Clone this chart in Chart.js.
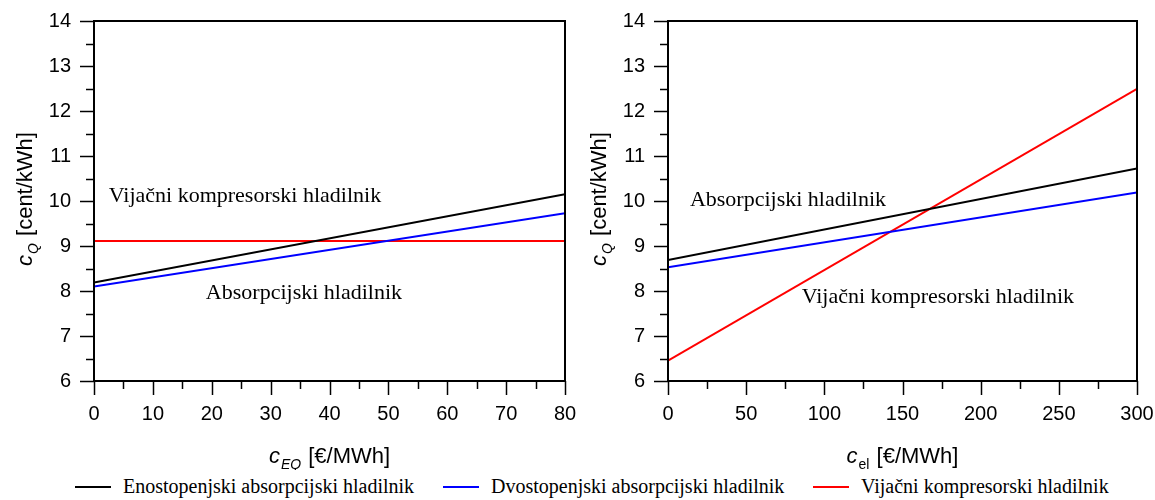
<!DOCTYPE html>
<html>
<head>
<meta charset="utf-8">
<script src="https://cdn.jsdelivr.net/npm/chart.js@4.4.1/dist/chart.umd.min.js"></script>
<style>
    body { margin: 0; background: #fff; width: 1155px; height: 500px; overflow: hidden; position: relative; }
    .box { position: absolute; top: 0; height: 470px; }
    #leftBox { left: 0; width: 580px; }
    #rightBox { left: 580px; width: 575px; }
    #legend { position: absolute; top: 475px; left: 0; width: 1155px; height: 25px;
        font-family: "Liberation Serif", "Times New Roman", serif; font-size: 20px; color: #000; }
    .item { position: absolute; top: 0; white-space: nowrap; }
    .swatch { display: inline-block; width: 36px; height: 2px; vertical-align: middle; margin-right: 12px; position: relative; top: -1px; }
</style>
</head>
<body>
<div class="box" id="leftBox"><canvas id="leftChart"></canvas></div>
<div class="box" id="rightBox"><canvas id="rightChart"></canvas></div>
<div id="legend"></div>

<script>
// series names
const seriesNames = ['Enostopenjski absorpcijski hladilnik', 'Dvostopenjski absorpcijski hladilnik', 'Vijačni kompresorski hladilnik'];
const seriesColors = ['#000000', '#0000ff', '#ff0000'];

// left chart: c_EQ [€/MWh]
const leftX = [0, 80];
const leftSingle = [8.19, 10.15];
const leftDouble = [8.10, 9.73];
const leftScrew = [9.11, 9.11];

// right chart: c_el [€/MWh]
const rightX = [0, 300];
const rightSingle = [8.69, 10.72];
const rightDouble = [8.53, 10.19];
const rightScrew = [6.45, 12.49];

// y axis range (both charts)
const yMin = 6, yMax = 14;

function toPoints(xs, ys) {
    return xs.map((x, i) => ({ x: x, y: ys[i] }));
}

// draws the frame, outward ticks, axis titles and text labels
const decorPlugin = {
    id: 'decor',
    afterDraw(chart, args, opts) {
        const ctx = chart.ctx;
        const area = chart.chartArea;
        const xs = chart.scales.x, ys = chart.scales.y;
        ctx.save();
        ctx.strokeStyle = '#000';
        ctx.lineWidth = 2;
        ctx.strokeRect(area.left, area.top, area.right - area.left, area.bottom - area.top);

        // y ticks
        ctx.lineWidth = 1.5;
        for (let v = yMin; v <= yMax + 0.001; v += 0.5) {
            const py = Math.round(ys.getPixelForValue(v)) + 0.5;
            const len = Number.isInteger(v) ? 14 : 8;
            ctx.beginPath();
            ctx.moveTo(area.left - len, py);
            ctx.lineTo(area.left, py);
            ctx.stroke();
        }
        // x ticks
        for (let v = xs.min; v <= xs.max + 0.001; v += opts.minorStep) {
            const px = Math.round(xs.getPixelForValue(v)) + 0.5;
            const len = (Math.round(v / opts.minorStep) % 2 === 0) ? 14 : 8;
            ctx.beginPath();
            ctx.moveTo(px, area.bottom);
            ctx.lineTo(px, area.bottom + len);
            ctx.stroke();
        }

        // y title: c_Q [cent/kWh]
        ctx.fillStyle = '#000';
        ctx.textBaseline = 'alphabetic';
        ctx.translate(opts.yTitleX, (area.top + area.bottom) / 2 - 2);
        ctx.rotate(-Math.PI / 2);
        drawSubTitle(ctx, 'Q', true, ' [cent/kWh]');
        ctx.setTransform(1, 0, 0, 1, 0, 0);

        // x title
        ctx.translate((area.left + area.right) / 2, opts.xTitleY);
        drawSubTitle(ctx, opts.xSub, opts.xSubItalic, ' [€/MWh]');
        ctx.setTransform(1, 0, 0, 1, 0, 0);

        // labels inside the plot
        ctx.font = '22px "Liberation Serif", "Times New Roman", serif';
        ctx.textAlign = 'left';
        ctx.textBaseline = 'middle';
        opts.notes.forEach(n => {
            ctx.fillText(n.text, xs.getPixelForValue(n.x), ys.getPixelForValue(n.y));
        });
        ctx.restore();
    }
};

// centred text "c" + subscript + rest, baseline near y = 0
function drawSubTitle(ctx, sub, subItalic, rest) {
    const main = '22px "Liberation Sans", Arial, sans-serif';
    const mainIt = 'italic 22px "Liberation Sans", Arial, sans-serif';
    const small = (subItalic ? 'italic ' : '') + '14px "Liberation Sans", Arial, sans-serif';
    ctx.font = mainIt; const w1 = ctx.measureText('c').width + 1;
    ctx.font = small; const w2 = ctx.measureText(sub).width + 1;
    ctx.font = main; const w3 = ctx.measureText(rest).width;
    let x = -(w1 + w2 + w3) / 2;
    ctx.textAlign = 'left';
    ctx.font = mainIt; ctx.fillText('c', x, 8); x += w1;
    ctx.font = small; ctx.fillText(sub, x, 14); x += w2;
    ctx.font = main; ctx.fillText(rest, x, 8);
}

function makeChart(id, xs, ysList, cfg) {
    const datasets = ysList.map((ys, i) => ({
        label: seriesNames[i],
        data: toPoints(xs, ys),
        borderColor: seriesColors[i],
        borderWidth: 2,
        pointRadius: 0,
        fill: false,
        tension: 0
    }));
    const tickFont = { family: '"Liberation Sans", Arial, sans-serif', size: 20 };
    return new Chart(document.getElementById(id), {
        type: 'line',
        data: { datasets: datasets },
        plugins: [decorPlugin],
        options: {
            responsive: true,
            maintainAspectRatio: false,
            animation: false,
            layout: { padding: { top: 21, right: cfg.padRight, left: 0, bottom: 0 } },
            plugins: {
                legend: { display: false },
                tooltip: { enabled: false },
                decor: cfg.decor
            },
            scales: {
                x: {
                    type: 'linear',
                    min: xs[0],
                    max: xs[xs.length - 1],
                    grid: { display: false, drawTicks: false },
                    border: { display: false },
                    ticks: { stepSize: cfg.xStep, color: '#000', font: tickFont, padding: 21, maxRotation: 0 },
                    afterFit: s => { s.height = 89; s.paddingLeft = 0; s.paddingRight = 0; }
                },
                y: {
                    min: yMin,
                    max: yMax,
                    grid: { display: false, drawTicks: false },
                    border: { display: false },
                    ticks: { stepSize: 1, color: '#000', font: tickFont, padding: 23 },
                    afterFit: s => { s.width = cfg.yWidth; s.paddingTop = 0; s.paddingBottom = 0; }
                }
            }
        }
    });
}

makeChart('leftChart', leftX, [leftSingle, leftDouble, leftScrew], {
    padRight: 15, yWidth: 94, xStep: 10,
    decor: {
        minorStep: 5, yTitleX: 24, xTitleY: 455, xSub: 'EQ', xSubItalic: true,
        notes: [
            { text: 'Vijačni kompresorski hladilnik', x: 2.5, y: 10.1 },
            { text: 'Absorpcijski hladilnik', x: 19, y: 7.95 }
        ]
    }
});

makeChart('rightChart', rightX, [rightSingle, rightDouble, rightScrew], {
    padRight: 18, yWidth: 88, xStep: 50,
    decor: {
        minorStep: 25, yTitleX: 18, xTitleY: 455, xSub: 'el', xSubItalic: false,
        notes: [
            { text: 'Absorpcijski hladilnik', x: 14, y: 10.02 },
            { text: 'Vijačni kompresorski hladilnik', x: 85.5, y: 7.87 }
        ]
    }
});

// shared legend under both charts
const legendX = [75, 443, 813];
const legendEl = document.getElementById('legend');
seriesNames.forEach((name, i) => {
    const item = document.createElement('div');
    item.className = 'item';
    item.style.left = legendX[i] + 'px';
    const sw = document.createElement('span');
    sw.className = 'swatch';
    sw.style.background = seriesColors[i];
    item.appendChild(sw);
    item.appendChild(document.createTextNode(name));
    legendEl.appendChild(item);
});
</script>
</body>
</html>
